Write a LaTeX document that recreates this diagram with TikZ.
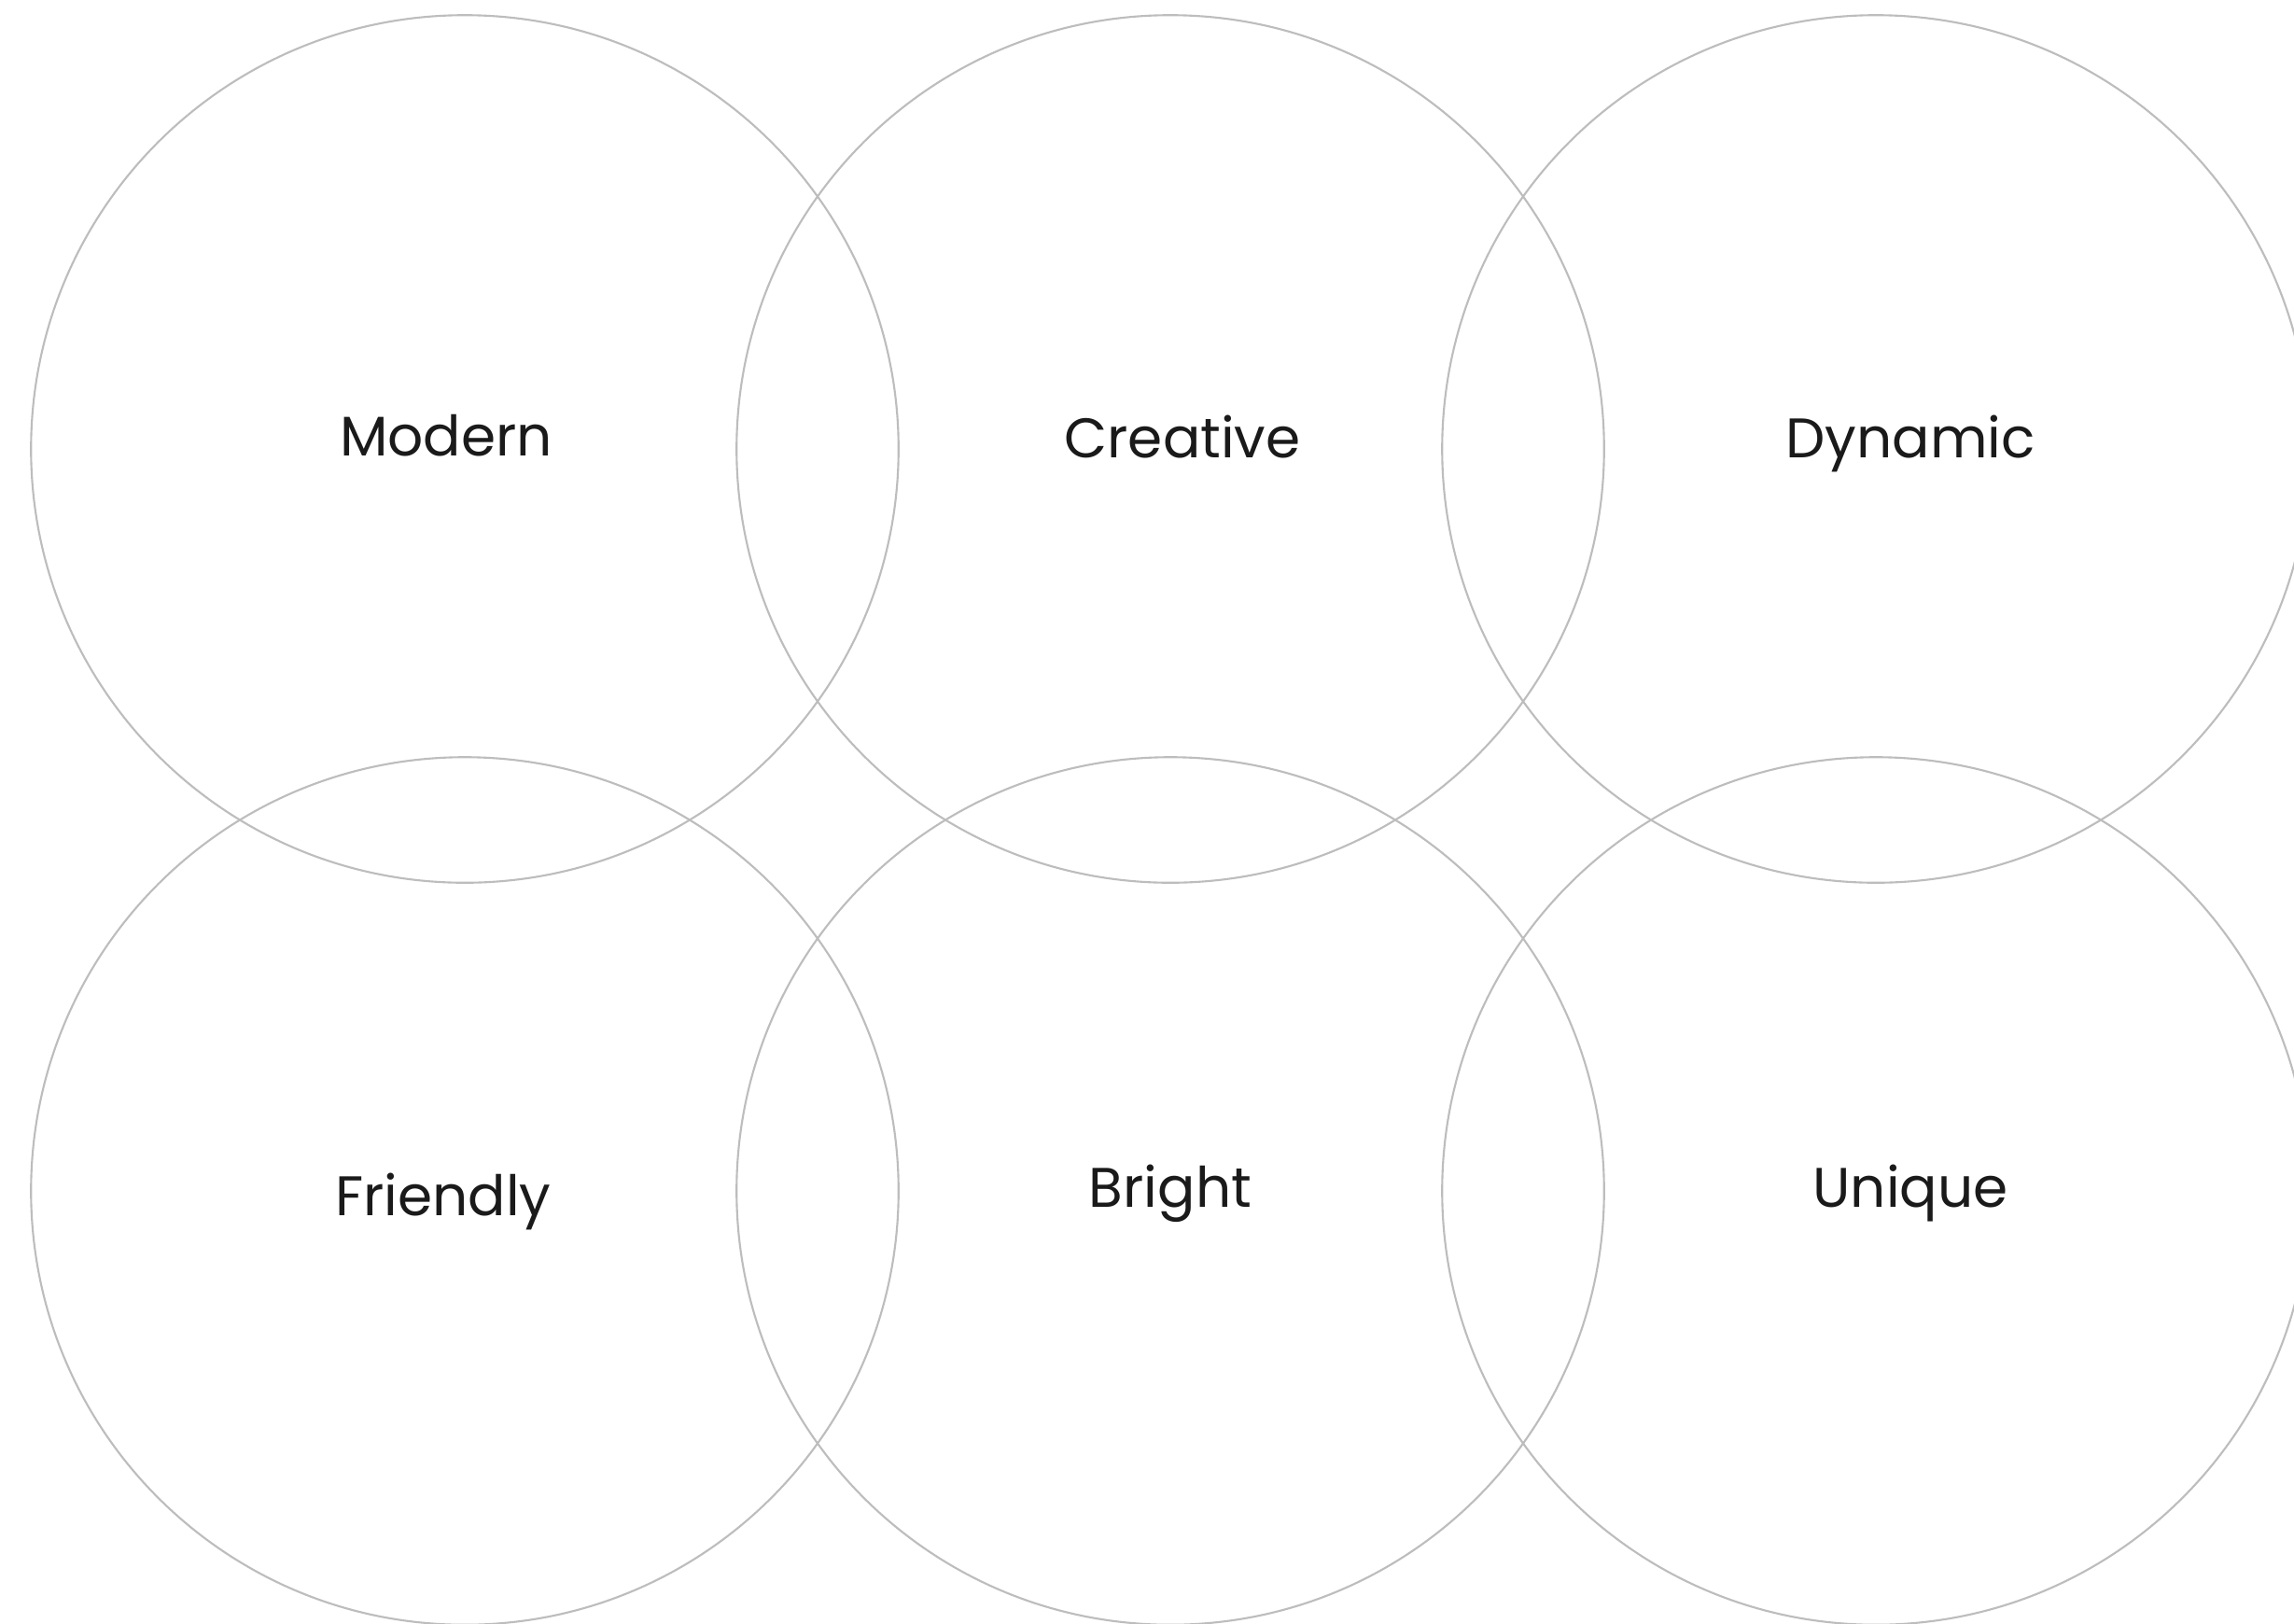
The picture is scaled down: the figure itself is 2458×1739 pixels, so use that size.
\documentclass[tikz,border=0pt]{standalone}
\usepackage{fontspec}
\setmainfont{Poppins}
\definecolor{ringgray}{HTML}{BDBDBD}
\definecolor{txt}{HTML}{1A1A1A}
\begin{document}
\begin{tikzpicture}[x=0.01cm,y=-0.01cm,
  ring/.style={circle,draw=ringgray,line width=0.6pt,minimum size=9.29cm,inner sep=0pt},
  word/.style={text=txt,font=\fontsize{17}{20}\selectfont,inner sep=0pt,anchor=base}]
\useasboundingbox (0,0) rectangle (2458,1739);
\clip (0,0) rectangle (2458,1739);
\fill[white] (0,0) rectangle (2458,1739);
\node[ring] (c1) at (498,481) {};
\node[ring] (c2) at (1254,481) {};
\node[ring] (c3) at (2010,481) {};
\node[ring] (c4) at (498,1276) {};
\node[ring] (c5) at (1254,1276) {};
\node[ring] (c6) at (2010,1276) {};
\node[word] (t1) at (478,488) {Modern};
\node[word] (t2) at (1267,490) {Creative};
\node[word] (t3) at (2047,490) {Dynamic};
\node[word] (t4) at (475,1302) {Friendly};
\node[word] (t5) at (1254,1293) {Bright};
\node[word] (t6) at (2047,1293) {Unique};
\end{tikzpicture}
\end{document}
